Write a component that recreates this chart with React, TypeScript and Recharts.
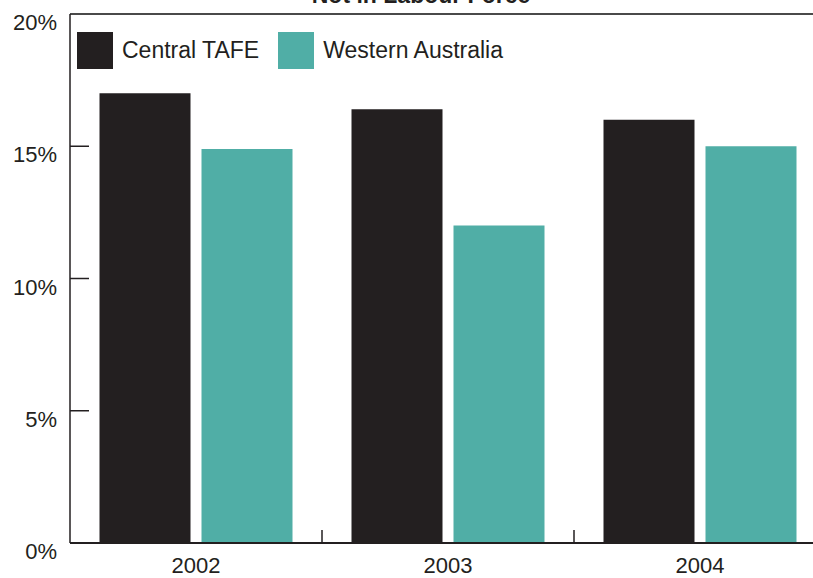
import { BarChart, Bar, XAxis, YAxis, Legend, ReferenceLine } from 'recharts';

const years = ['2002', '2003', '2004'];
const centralTafe = [17.0, 16.4, 16.0];
const westernAustralia = [14.9, 12.0, 15.0];
const yTicks = [0, 5, 10, 15, 20];

const data = years.map((year, i) => ({
  year,
  central: centralTafe[i],
  wa: westernAustralia[i],
}));

const INK = '#231f20';
const TEAL = '#50aea6';
const FONT = '"Liberation Sans", Arial, sans-serif';

const CHART_W = 830;
const CHART_H = 578;
const MARGIN = { top: 14, right: 4, bottom: 0, left: 0 };
const Y_AXIS_W = 70;
const BAND = (CHART_W - MARGIN.left - MARGIN.right - Y_AXIS_W) / years.length;

function YTick({ x, y, payload }: any) {
  const v = payload.value;
  return (
    <g>
      {v > 0 && v < 20 && (
        <line x1={x + 13} x2={x + 32} y1={y} y2={y} stroke={INK} strokeWidth={1.5} />
      )}
      <text x={x} y={y + 16} textAnchor="end" fontSize={22} fill={INK} fontFamily={FONT}>
        {v}%
      </text>
    </g>
  );
}

function XTick({ x, y, payload, index }: any) {
  return (
    <g>
      {index < years.length - 1 && (
        <line x1={x + BAND / 2} x2={x + BAND / 2} y1={y} y2={y - 13} stroke={INK} strokeWidth={1.5} />
      )}
      <text x={x} y={y + 30} textAnchor="middle" fontSize={22} fill={INK} fontFamily={FONT}>
        {payload.value}
      </text>
    </g>
  );
}

function LegendBox({ payload }: any) {
  return (
    <div style={{ display: 'flex', alignItems: 'center', fontFamily: FONT, fontSize: 23, color: INK }}>
      {(payload || []).map((item: any) => (
        <div key={item.value} style={{ display: 'flex', alignItems: 'center', marginRight: 19 }}>
          <div style={{ width: 36, height: 37, background: item.color, marginRight: 9 }} />
          <span>{item.value}</span>
        </div>
      ))}
    </div>
  );
}

export default function App() {
  return (
    <div style={{ position: 'absolute', top: 0, left: 0, width: 813, height: 578, overflow: 'hidden', background: '#fff' }}>
      <svg width={813} height={20} style={{ position: 'absolute', top: 0, left: 0 }}>
        <text x={421} y={3} textAnchor="middle" fontSize={23} fontWeight="bold" fill={INK} fontFamily={FONT}>
          Not in Labour Force
        </text>
      </svg>
      <BarChart
        width={CHART_W}
        height={CHART_H}
        data={data}
        margin={MARGIN}
        barCategoryGap={29.5}
        barGap={11}
      >
        <XAxis
          dataKey="year"
          height={35}
          tickSize={0}
          tickMargin={0}
          tick={<XTick />}
          axisLine={{ stroke: INK, strokeWidth: 2 }}
        />
        <YAxis
          width={Y_AXIS_W}
          domain={[0, 20]}
          ticks={yTicks}
          interval={0}
          tickSize={0}
          tickMargin={13}
          tick={<YTick />}
          axisLine={{ stroke: INK, strokeWidth: 1.5 }}
        />
        <ReferenceLine y={20} stroke="#4a4a4a" strokeWidth={2} />
        <Legend
          layout="horizontal"
          verticalAlign="middle"
          align="center"
          content={<LegendBox />}
          wrapperStyle={{ top: 32, left: 77, width: 'auto' }}
        />
        <Bar dataKey="central" name="Central TAFE" fill={INK} isAnimationActive={false} />
        <Bar dataKey="wa" name="Western Australia" fill={TEAL} isAnimationActive={false} />
      </BarChart>
    </div>
  );
}
